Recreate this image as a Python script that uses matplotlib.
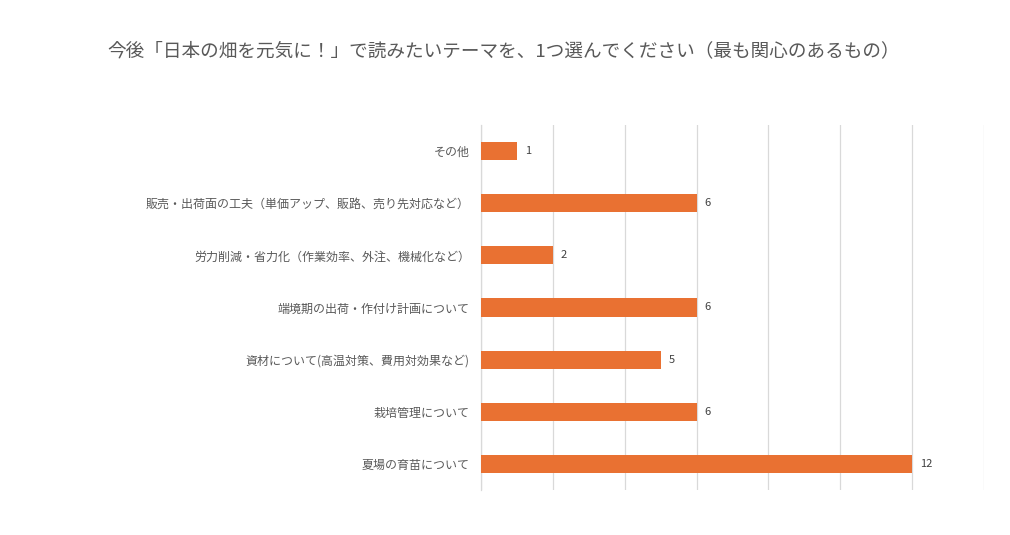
import matplotlib
matplotlib.use("Agg")
import matplotlib.pyplot as plt

plt.rcParams['font.family'] = ['Noto Sans CJK JP', 'DejaVu Sans']

title = "今後「日本の畑を元気に！」で読みたいテーマを、1つ選んでください（最も関心のあるもの）"
categories = [
    "その他",
    "販売・出荷面の工夫（単価アップ、販路、売り先対応など）",
    "労力削減・省力化（作業効率、外注、機械化など）",
    "端境期の出荷・作付け計画について",
    "資材について(高温対策、費用対効果など)",
    "栽培管理について",
    "夏場の育苗について",
]
values = [1, 6, 2, 6, 5, 6, 12]

fig = plt.figure(figsize=(10.10, 5.35), dpi=100)
ax = fig.add_axes([481/1010, 1 - 490/535, (984-481)/1010, (490-125)/535])

y = list(range(len(categories)))
ax.barh(y, values, height=0.35, color='#E97132', zorder=3)
ax.set_ylim(len(categories) - 0.5, -0.5)
ax.set_xlim(0, 14)
ax.set_xticks(range(0, 15, 2))
ax.set_xticklabels([])
ax.tick_params(axis='x', length=0)
ax.tick_params(axis='y', length=0, pad=8)
ax.set_yticks(y)
ax.set_yticklabels(categories, fontsize=8.65, color='#595959')
ax.grid(axis='x', color='#D9D9D9', linewidth=0.9, zorder=0)
for s in ['top', 'right', 'bottom']:
    ax.spines[s].set_visible(False)
ax.spines['left'].set_color('#D9D9D9')
ax.spines['left'].set_linewidth(0.9)

for yi, v in zip(y, values):
    ax.text(v + 0.22, yi, str(v), va='center', ha='left', fontsize=8, color='#404040')

fig.text(0.499, 1 - 51/535, title, ha='center', va='center', fontsize=13.4, color='#595959')

fig.savefig('out.png', dpi=100, facecolor='white')
